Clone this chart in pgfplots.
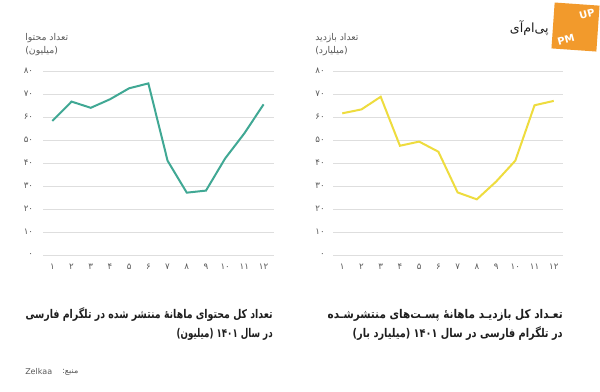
\documentclass[border=0pt]{standalone}
\usepackage{fontspec}
\usepackage{graphicx}
\usepackage{pgfplots}
\pgfplotsset{compat=1.18}
\setmainfont{DejaVu Sans}
\newfontfamily\fa[Script=Arabic]{DejaVu Sans}
\TeXXeTstate=1
\definecolor{tealc}{RGB}{64,168,148}
\definecolor{yellowc}{RGB}{238,220,62}
\definecolor{gridc}{RGB}{222,222,222}
\definecolor{labc}{RGB}{90,90,90}
\definecolor{titc}{RGB}{30,30,30}
\definecolor{orangec}{RGB}{242,154,44}
\newcommand{\R}[1]{{\fa\beginR #1\endR}}
\pgfplotsset{
  mystyle/.style={
    scale only axis,
    anchor=south west,
    ymin=0, ymax=80,
    ytick={0,10,...,80},
    yticklabels={{\fa ۰},{\fa ۱۰},{\fa ۲۰},{\fa ۳۰},{\fa ۴۰},{\fa ۵۰},{\fa ۶۰},{\fa ۷۰},{\fa ۸۰}},
    xtick={1,...,12},
    xticklabels={{\fa ۱},{\fa ۲},{\fa ۳},{\fa ۴},{\fa ۵},{\fa ۶},{\fa ۷},{\fa ۸},{\fa ۹},{\fa ۱۰},{\fa ۱۱},{\fa ۱۲}},
    axis line style={draw=none},
    tick style={draw=none},
    ymajorgrids,
    major grid style={draw=gridc, line width=0.6pt},
    ticklabel style={font=\fontsize{6.5}{7}\selectfont, text=labc, inner sep=0pt},
    xticklabel style={anchor=center, yshift=-9pt},
    clip=false,
  }
}
\begin{document}
\begin{tikzpicture}
\useasboundingbox (0,0) rectangle (450pt,294pt);
\fill[white] (0,0) rectangle (450pt,294pt);
% left chart
\begin{axis}[mystyle,
  at={(32.5pt,102.75pt)},
  width=173.25pt, height=138pt,
  xmin=0.53, xmax=12.56,
  yticklabel style={anchor=east, xshift=-7.5pt},
]
\addplot[color=tealc, line width=1.5pt] coordinates {
(1,58.3) (2,66.7) (3,64.0) (4,67.7) (5,72.5) (6,74.6)
(7,41.0) (8,27.1) (9,28.0) (10,42.0) (11,52.9) (12,65.5)};
\end{axis}
% right chart
\begin{axis}[mystyle,
  at={(249.75pt,102.75pt)},
  width=172.5pt, height=138pt,
  xmin=0.52, xmax=12.48,
  yticklabel style={anchor=east, xshift=-6pt},
]
\addplot[color=yellowc, line width=1.5pt] coordinates {
(1,61.6) (2,63.3) (3,68.8) (4,47.5) (5,49.3) (6,44.9)
(7,27.2) (8,24.2) (9,31.9) (10,41.0) (11,65.1) (12,67.0)};
\end{axis}
% y-axis titles
\begin{scope}[every node/.style={inner sep=0pt, text=labc, font=\fontsize{7}{8}\selectfont}]
\node[anchor=west] at ({25*0.75pt},{(392-37.7)*0.75pt}) {\R{تعداد محتوا}};
\node[anchor=west] at ({25*0.75pt},{(392-50.7)*0.75pt}) {\R{(میلیون)}};
\node[anchor=west] at ({315*0.75pt},{(392-37.7)*0.75pt}) {\R{تعداد بازدید}};
\node[anchor=west] at ({315*0.75pt},{(392-50.7)*0.75pt}) {\R{(میلیارد)}};
\end{scope}
% bottom titles
\begin{scope}[every node/.style={inner sep=0pt, text=titc, font=\fontsize{9}{10}\selectfont\bfseries}]
\node[anchor=east] at ({273*0.75pt},{(392-315)*0.75pt}) {\resizebox{185.25pt}{\height}{\R{تعداد کل محتوای ماهانهٔ منتشر شده در تلگرام فارسی}}};
\node[anchor=east] at ({273*0.75pt},{(392-334)*0.75pt}) {\resizebox{72pt}{\height}{\R{در سال ۱۴۰۱ (میلیون)}}};
\node[anchor=east] at ({563*0.75pt},{(392-315)*0.75pt}) {\resizebox{176.25pt}{\height}{\R{تعـداد کل بازدیـد ماهانهٔ پسـت‌های منتشرشـده}}};
\node[anchor=east] at ({563*0.75pt},{(392-334)*0.75pt}) {\resizebox{157.5pt}{\height}{\R{در تلگرام فارسی در سال ۱۴۰۱ (میلیارد بار)}}};
\end{scope}
% source
\node[anchor=west, inner sep=0pt, text=labc, font=\fontsize{6}{7}\selectfont] at ({25*0.75pt},{(392-372)*0.75pt}) {Zelkaa};
\node[anchor=west, inner sep=0pt, text=labc, font=\fontsize{6}{7}\selectfont] at ({62*0.75pt},{(392-372)*0.75pt}) {\R{منبع:}};
% logo
\fill[orangec, rotate around={-4:({575*0.75pt},{(392-27)*0.75pt})}] ({553*0.75pt},{(392-50)*0.75pt}) rectangle ({598*0.75pt},{(392-4)*0.75pt});
\node[text=white, font=\fontsize{7.5}{8}\selectfont\bfseries, inner sep=0pt, rotate=15] at ({587*0.75pt},{(392-14)*0.75pt}) {UP};
\node[text=white, font=\fontsize{7.5}{8}\selectfont\bfseries, inner sep=0pt, rotate=15] at ({566*0.75pt},{(392-40)*0.75pt}) {PM};
\node[anchor=east, text=titc, inner sep=0pt, font=\fontsize{9.5}{10}\selectfont] at ({549*0.75pt},{(392-28)*0.75pt}) {\R{پی‌ام‌آی}};
\end{tikzpicture}
\end{document}
